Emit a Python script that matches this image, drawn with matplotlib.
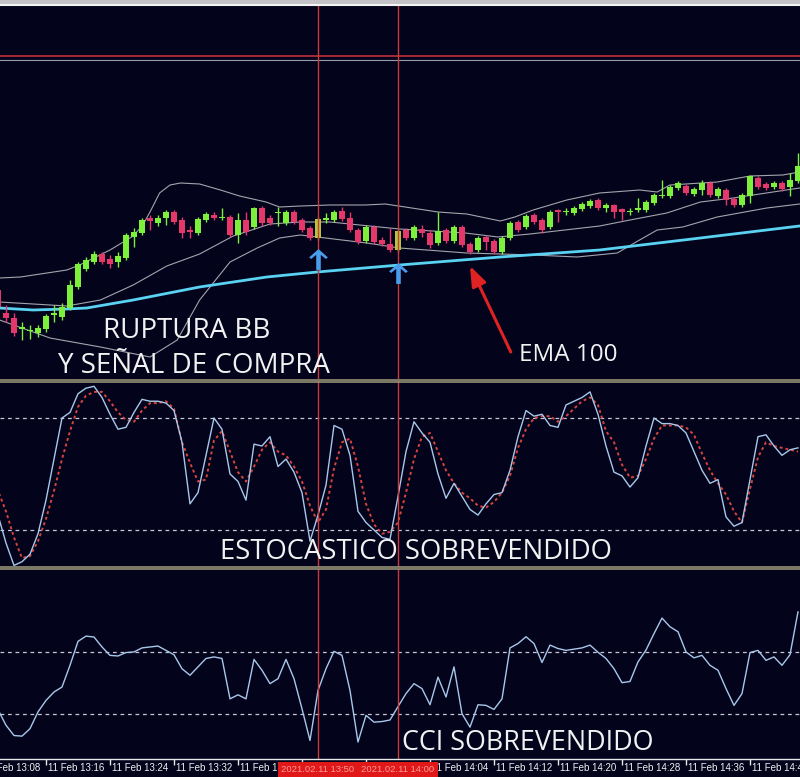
import numpy as np
from matplotlib import pyplot as plt
from matplotlib.path import Path
from matplotlib.lines import Line2D
from matplotlib.patches import Rectangle

# one candle per minute, minutes after 13:00 (11 Feb 2021)
minutes = np.arange(10, 111)

# candle prices in chart points (the screenshot has no price scale)
opens = [110, 87, 82, 71, 69, 67, 71, 85, 83, 92,
         113, 131, 138, 146, 141, 138, 142, 163, 167, 182,
         177, 182, 188, 180, 170, 167, 180, 185, 182, 183,
         165, 180, 173, 192, 182, 187, 177, 188, 180, 172,
         162, 180, 180, 189, 182, 170, 159, 173, 160, 156,
         150, 170, 162, 171, 167, 157, 170, 159, 173, 156,
         150, 163, 159, 148, 162, 178, 173, 185, 180, 173,
         190, 188, 187, 191, 194, 200, 192, 195, 191, 188,
         190, 190, 197, 204, 204, 212, 214, 206, 210, 217,
         204, 210, 201, 195, 204, 222, 216, 213, 217, 213, 219]
closes = [93, 82, 67, 73, 70, 72, 84, 87, 93, 115,
          136, 140, 146, 138, 136, 144, 165, 168, 180, 179,
          182, 188, 178, 167, 168, 181, 186, 182, 183, 165,
          180, 168, 192, 177, 177, 188, 188, 178, 170, 162,
          181, 182, 188, 181, 170, 158, 173, 158, 156, 150,
          169, 162, 173, 167, 155, 169, 159, 173, 155, 148,
          162, 158, 148, 162, 177, 170, 184, 178, 170, 188,
          188, 189, 192, 196, 199, 192, 195, 188, 188, 189,
          192, 198, 205, 205, 213, 217, 207, 211, 217, 205,
          211, 200, 195, 205, 224, 213, 212, 217, 211, 220, 234]
highs = [115, 95, 87, 78, 75, 75, 86, 95, 97, 120,
         138, 143, 149, 148, 145, 148, 167, 172, 182, 185,
         185, 190, 190, 183, 174, 183, 188, 188, 192, 185,
         187, 188, 193, 194, 185, 193, 190, 190, 182, 174,
         183, 187, 190, 193, 188, 172, 175, 175, 163, 172,
         171, 172, 175, 175, 170, 188, 172, 175, 175, 158,
         164, 165, 161, 164, 179, 180, 186, 187, 182, 190,
         191, 192, 194, 198, 201, 202, 197, 196, 192, 192,
         202, 200, 207, 220, 215, 219, 216, 213, 220, 219,
         213, 212, 203, 207, 225, 224, 218, 219, 219, 227, 247]
lows = [88, 78, 64, 60, 61, 63, 68, 78, 80, 90,
        111, 129, 136, 136, 132, 133, 140, 153, 165, 170,
        174, 175, 176, 162, 162, 165, 178, 180, 180, 163,
        157, 165, 171, 174, 175, 174, 175, 176, 168, 160,
        160, 177, 178, 179, 168, 156, 157, 156, 154, 148,
        148, 160, 160, 163, 152, 155, 157, 157, 153, 146,
        148, 150, 146, 146, 160, 168, 171, 176, 167, 171,
        178, 185, 185, 189, 192, 190, 188, 182, 180, 185,
        188, 188, 195, 202, 202, 210, 205, 204, 205, 203,
        202, 195, 193, 193, 197, 211, 210, 211, 209, 204, 217]

# Bollinger bands and EMA 100, read at points along each line
upper_t = [10.2, 12.8, 18.6, 20.2, 24.0, 26.9, 28.1, 29.0, 30.2, 31.5, 32.8, 35.2,
           37.8, 40.2, 43.5, 45.2, 47.8, 51.5, 55.9, 58.4, 60.9, 65.0, 68.6, 72.8,
           74.6, 76.9, 81.1, 85.2, 90.2, 92.4, 94.0, 99.9, 104.0, 108.1, 110.2]
upper_v = [122, 123, 130, 135, 150, 164, 175, 188, 207, 215, 217, 216,
           210, 204, 198, 193, 194, 195, 195, 196, 193, 188, 186, 179,
           183, 190, 200, 207, 210, 208, 215, 218, 224, 225, 228]
middle_t = [10.2, 18.6, 22.8, 26.9, 31.1, 35.2, 39.4, 44.0, 47.8, 51.5, 55.2,
            60.2, 68.4, 72.5, 76.5, 85.2, 89.0, 93.6, 97.8, 101.9, 110.2]
middle_v = [98, 94, 100, 115, 134, 146, 164, 176, 178, 178, 175,
            171, 167, 163, 166, 174, 180, 187, 198, 202, 212]
lower_t = [10.2, 16.5, 22.8, 29.0, 32.4, 35.2, 39.0, 42.4, 45.2, 47.8, 49.9, 56.1,
           60.2, 68.6, 76.9, 82.4, 87.4, 90.2, 92.4, 95.6, 99.9, 106.1, 110.2]
lower_v = [80, 62, 53, 43, 60, 100, 138, 152, 162, 165, 163, 157,
           152, 147, 145, 143, 147, 160, 170, 173, 183, 192, 196]
ema_t = [10.2, 14.4, 18.6, 21.1, 26.9, 35.2, 43.6, 49.9, 60.2, 72.8, 85.2, 97.8, 110.2]
ema_v = [92, 90, 91, 92, 100, 113, 123, 128, 135, 143, 150, 162, 174]

# stochastic %K and %D
stoch_k = [28, 13, 1, 3, 7, 18, 36, 58, 80, 83,
           93, 96, 97, 91, 82, 74, 75, 83, 90, 89,
           89, 88, 84, 67, 34, 40, 60, 80, 74, 50,
           46, 36, 66, 65, 70, 54, 58, 51, 40, 14,
           28, 44, 76, 74, 60, 30, 24, 20, 16, 15,
           38, 62, 78, 72, 67, 50, 37, 45, 38, 31,
           28, 34, 39, 40, 52, 70, 84, 81, 82, 76,
           75, 87, 89, 91, 94, 82, 65, 51, 49, 43,
           48, 65, 80, 77, 77, 76, 72, 62, 52, 45,
           47, 27, 22, 24, 47, 70, 71, 65, 60, 63, 64]
stoch_d = [41, 30, 16, 5, 6, 14, 26, 41, 58, 73,
           86, 92, 94, 94, 89, 83, 79, 78, 84, 88,
           88, 89, 85, 67, 56, 46, 47, 68, 73, 62,
           51, 46, 54, 63, 67, 62, 60, 54, 46, 33,
           24, 31, 53, 67, 69, 54, 34, 23, 18, 19,
           24, 40, 58, 70, 72, 62, 52, 45, 40, 37,
           33, 32, 35, 40, 49, 64, 74, 80, 81, 81,
           78, 81, 85, 89, 91, 87, 73, 67, 55, 48,
           49, 58, 69, 76, 76, 76, 75, 71, 61, 52,
           45, 39, 30, 24, 42, 59, 67, 65, 64, 63, 62]
stoch_levels = [80, 20]

cci = [-85, -135, -168, -170, -146, -92, -55, -28, -12, 58,
       135, 152, 149, 117, 90, 88, 99, 101, 114, 117,
       120, 106, 92, 47, 26, 53, 80, 85, 80, -50,
       -37, -50, 77, 42, -1, 15, 77, 15, -82, -184,
       -23, 47, 103, 90, -23, -189, -103, -125, -123, -118,
       -75, -33, -1, -17, -69, 20, -44, 53, -98, -141,
       -69, -71, -84, -50, 114, 128, 150, 128, 67, 123,
       112, 106, 110, 114, 123, 100, 80, 47, 2, 6,
       69, 107, 160, 210, 182, 166, 101, 82, 90, 58,
       42, -17, -71, -33, 99, 106, 74, 85, 58, 92, 230]
cci_levels = [100, -100]

# buy signals (minute of the candle) and arrow levels
signal_minutes = [50, 60]
signal_labels = ["2021.02.11 13:50", "2021.02.11 14:00"]
arrow_levels = [141, 127]
price_lines = [344, 340]
tick_minutes = list(range(8, 112, 8))

BG = '#03031c'
GREEN = '#7cf03a'
RED = '#e5386a'
H = 777.0
XLIM = (10.25, 110.25)


def rect(top, bottom):
    return [0, 1 - bottom / H, 1, (bottom - top) / H]


def style(ax):
    ax.set_facecolor(BG)
    for s in ax.spines.values():
        s.set_visible(False)
    ax.set_yticks([])
    ax.set_xticks([])


fig = plt.figure(figsize=(8, 7.77), dpi=100, facecolor=BG)
ax_p = fig.add_axes(rect(6, 379))
ax_s = fig.add_axes(rect(380.7, 567.3))
ax_c = fig.add_axes(rect(569, 758.5))
for ax in (ax_p, ax_s, ax_c):
    style(ax)
    for m in signal_minutes:
        ax.axvline(m, color='#c83c3c', lw=1, zorder=6)

# ---- price panel
ax_p.axhline(price_lines[0], color='#c0303a', lw=1.2)
ax_p.axhline(price_lines[1], color='#9a9aae', lw=0.8)
for tt, vv in ((upper_t, upper_v), (middle_t, middle_v), (lower_t, lower_v)):
    ax_p.plot(tt, vv, color='#a4a4ac', lw=0.8, zorder=2)
ax_p.plot(ema_t, ema_v, color='#5ad2f2', lw=2, zorder=3)

o = np.array(opens)
c = np.array(closes)
up = c >= o
colors = np.where(up, GREEN, RED).astype(object)
for i, m in enumerate(minutes):
    if m in signal_minutes:
        colors[i] = '#b8c43c'
ax_p.vlines(minutes, lows, highs, colors=list(colors), lw=1, zorder=4)
ax_p.bar(minutes, np.maximum(np.abs(c - o), 1), bottom=np.minimum(o, c),
         width=0.72, color=list(colors), zorder=5)

arrow = Path([(0, 1), (0.9, 0.2), (0.7, 0.05), (0.22, 0.45), (0.22, -1),
              (-0.22, -1), (-0.22, 0.45), (-0.7, 0.05), (-0.9, 0.2), (0, 1)])
ax_p.plot(signal_minutes, arrow_levels, ls='none', marker=arrow, ms=15,
          color='#4a9cec', mec='none', zorder=7)

ax_p.annotate('', xy=(69.0, 134), xytext=(74.1, 48),
              arrowprops=dict(arrowstyle='-|>,head_length=1.2,head_width=0.45',
                              color='#e02222', lw=2.2, shrinkA=0, shrinkB=0))
ax_p.set_ylim(21, 394)

# ---- stochastic panel
for lv in stoch_levels:
    ax_s.axhline(lv, color='#c8c8d4', lw=0.9, ls=(0, (3, 3)))
ax_s.plot(minutes, stoch_d, color='#d8443e', lw=1.4, ls=(0, (1.5, 1.5)))
ax_s.plot(minutes, stoch_k, color='#a8c8ea', lw=1)
ax_s.set_ylim(0, 100)

# ---- CCI panel
for lv in cci_levels:
    ax_c.axhline(lv, color='#c8c8d4', lw=0.9, ls=(0, (3, 3)))
ax_c.plot(minutes, cci, color='#a8c8ea', lw=1)
ax_c.set_ylim(-242, 368)

# time axis
ax_c.set_xticks(tick_minutes)
ax_c.set_xticklabels([])
ax_c.tick_params(axis='x', direction='out', length=4, width=1, color='#e8e8e8')
for ax in (ax_p, ax_s, ax_c):
    ax.set_xlim(*XLIM)
for m in tick_minutes:
    ax_c.annotate(f"11 Feb {13 + m // 60}:{m % 60:02d}", xy=(m, 0),
                  xycoords=('data', 'axes fraction'), xytext=(1.5, -9.5),
                  textcoords='offset pixels', ha='left', va='center',
                  fontsize=7, family='Liberation Sans', color='#f0f0f0',
                  annotation_clip=False, zorder=3)
for m, lbl in zip(signal_minutes, signal_labels):
    ax_c.annotate(lbl, xy=(m, 0), xycoords=('data', 'axes fraction'),
                  xytext=(0, -11), textcoords='offset pixels', ha='center',
                  va='center', fontsize=6.8, family='Liberation Sans',
                  color='#ff9a9a', annotation_clip=False, zorder=8,
                  bbox=dict(boxstyle='square,pad=0.35', fc='#e01818', ec='none'))

# frame lines and separators
def hline(y, color, lw):
    fig.add_artist(Line2D([0, 1], [1 - y / H, 1 - y / H], color=color, lw=lw,
                          transform=fig.transFigure))

fig.add_artist(Rectangle((0, 1 - 3 / H), 1, 3 / H, color='#c4c4c8',
                         transform=fig.transFigure))
hline(5, '#f4f4f4', 1.5)
for y in (379.5, 382, 566.5, 569):
    hline(y, '#a09c7c', 1.1)
hline(759, '#e8e8e8', 1)

# captions
txt = dict(color='#f2f2f2', family='Open Sans', va='baseline')
fig.text(187 / 800, 1 - 338 / H, "RUPTURA BB", ha='center', fontsize=20, **txt)
fig.text(194 / 800, 1 - 373 / H, "Y SEÑAL DE COMPRA", ha='center', fontsize=20, **txt)
fig.text(519 / 800, 1 - 361 / H, "EMA 100", ha='left', fontsize=17.5, **txt)
fig.text(416 / 800, 1 - 559 / H, "ESTOCASTICO SOBREVENDIDO", ha='center', fontsize=19.8, **txt)
fig.text(528 / 800, 1 - 750 / H, "CCI SOBREVENDIDO", ha='center', fontsize=19.4, **txt)

fig.savefig('out.png', dpi=100, facecolor=BG)
